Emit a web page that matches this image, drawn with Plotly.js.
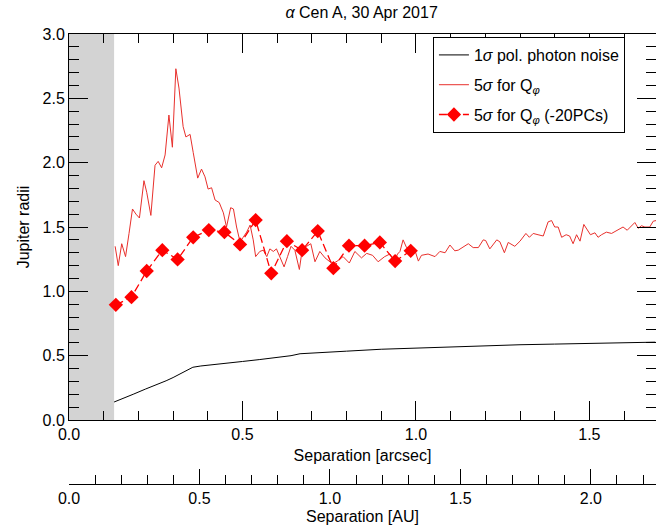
<!DOCTYPE html>
<html>
<head>
<meta charset="utf-8">
<script src="https://cdn.plot.ly/plotly-3.0.1.min.js"></script>
<style>html,body{margin:0;padding:0;background:#fff;}#chart{width:656px;height:532px;}</style>
</head>
<body>
<div id="chart"></div>
<script>
// 1-sigma polarimetric photon noise (black)
const noiseSep = [0.13, 0.16, 0.185, 0.22, 0.25, 0.28, 0.30, 0.33, 0.345, 0.357, 0.38, 0.40, 0.45, 0.50, 0.55, 0.60, 0.64, 0.666, 0.72, 0.80, 0.90, 1.00, 1.10, 1.20, 1.30, 1.40, 1.50, 1.60, 1.69];
const noiseVal = [0.14, 0.17, 0.20, 0.24, 0.27, 0.305, 0.33, 0.37, 0.395, 0.41, 0.42, 0.425, 0.44, 0.455, 0.47, 0.485, 0.50, 0.515, 0.525, 0.535, 0.55, 0.56, 0.57, 0.58, 0.585, 0.59, 0.595, 0.60, 0.605];

// 5-sigma for Q_phi (red line)
const qphiSep = [0.133,0.142,0.152,0.163,0.173,0.183,0.193,0.203,0.216,0.224,0.236,0.248,0.257,0.267,0.277,0.288,0.298,0.308,0.317,0.329,0.337,0.349,0.358,0.371,0.382,0.392,0.401,0.411,0.421,0.433,0.445,0.454,0.466,0.474,0.483,0.493,0.502,0.512,0.522,0.531,0.538,0.55,0.56,0.57,0.579,0.589,0.598,0.608,0.62,0.63,0.64,0.651,0.664,0.672,0.685,0.697,0.709,0.723,0.738,0.752,0.764,0.776,0.79,0.808,0.824,0.843,0.858,0.875,0.891,0.91,0.925,0.938,0.947,0.954,0.963,0.973,0.985,0.997,1.007,1.016,1.035,1.055,1.069,1.084,1.098,1.112,1.122,1.151,1.165,1.18,1.194,1.201,1.213,1.233,1.242,1.255,1.266,1.285,1.30,1.317,1.327,1.338,1.352,1.367,1.381,1.391,1.40,1.41,1.42,1.433,1.443,1.453,1.463,1.473,1.484,1.494,1.503,1.516,1.525,1.535,1.549,1.564,1.576,1.588,1.597,1.609,1.631,1.641,1.65,1.66,1.674,1.684,1.692];
const qphiVal = [1.35,1.20,1.37,1.27,1.45,1.64,1.60,1.57,1.86,1.77,1.59,1.98,2.01,1.96,2.06,2.37,2.12,2.73,2.58,2.28,2.20,2.22,2.08,1.88,1.95,1.89,1.795,1.805,1.71,1.69,1.61,1.50,1.65,1.64,1.50,1.385,1.42,1.46,1.515,1.40,1.27,1.31,1.32,1.27,1.33,1.31,1.33,1.27,1.19,1.27,1.35,1.32,1.17,1.32,1.35,1.37,1.23,1.31,1.26,1.23,1.22,1.24,1.27,1.22,1.31,1.26,1.295,1.28,1.23,1.27,1.29,1.235,1.29,1.31,1.40,1.34,1.33,1.32,1.235,1.28,1.29,1.27,1.31,1.30,1.36,1.315,1.32,1.37,1.34,1.34,1.40,1.395,1.33,1.40,1.385,1.30,1.38,1.35,1.39,1.45,1.42,1.45,1.44,1.43,1.54,1.55,1.50,1.50,1.42,1.44,1.43,1.37,1.44,1.39,1.52,1.48,1.44,1.455,1.42,1.44,1.46,1.45,1.47,1.49,1.50,1.475,1.535,1.49,1.51,1.50,1.50,1.545,1.55];

// 5-sigma for Q_phi (-20PCs) (diamonds)
const pcSep = [0.135,0.18,0.224,0.269,0.313,0.358,0.403,0.448,0.493,0.538,0.583,0.628,0.672,0.717,0.762,0.807,0.852,0.896,0.940,0.985];
const pcVal = [0.895,0.955,1.158,1.32,1.248,1.42,1.476,1.46,1.365,1.554,1.14,1.39,1.32,1.468,1.18,1.355,1.355,1.38,1.235,1.315];

const maskEdge = 0.13;       // arcsec, coronagraph region
const arcsecMax = 1.692;
const auPerArcsec = 1.3295;

const FONT = 'Liberation Sans, Arial, Helvetica, sans-serif';

const traces = [
  {x: noiseSep, y: noiseVal, type: 'scatter', mode: 'lines', name: '1<i>σ</i> pol. photon noise',
   line: {color: '#000000', width: 1}, legendgroup: 'a', xaxis: 'x', yaxis: 'y'},
  {x: qphiSep, y: qphiVal, type: 'scatter', mode: 'lines', name: '5<i>σ</i> for Q<sub><i>φ</i></sub>',
   line: {color: '#e8302c', width: 1}, legendgroup: 'b', xaxis: 'x', yaxis: 'y'},
  {x: pcSep, y: pcVal, type: 'scatter', mode: 'lines+markers', name: '5<i>σ</i> for Q<sub><i>φ</i></sub> (-20PCs)',
   line: {color: '#ff0000', width: 1.3, dash: '8px,4px'}, marker: {symbol: 'diamond', size: 11, color: '#ff0000'},
   legendgroup: 'c', xaxis: 'x', yaxis: 'y'}
];

const layout = {
  width: 656, height: 532,
  margin: {l: 69, r: 0, t: 34, b: 48},
  paper_bgcolor: '#fff', plot_bgcolor: '#fff',
  font: {family: FONT, size: 16, color: '#000'},
  showlegend: true,
  title: {text: '<i>α</i> Cen A, 30 Apr 2017', font: {family: FONT, size: 16, color: '#000'},
          x: 0.5513, xref: 'container', y: 0.976, yref: 'container', yanchor: 'middle', xanchor: 'center'},
  xaxis: {
    range: [0, arcsecMax], domain: [0, 1], anchor: 'y',
    showline: true, linecolor: '#000', linewidth: 1, mirror: 'ticks', showgrid: false, zeroline: false,
    ticks: 'inside', ticklen: 19, tickwidth: 1, tickcolor: '#000',
    tickmode: 'linear', tick0: 0, dtick: 0.5, tickformat: '.1f',
    tickfont: {family: FONT, size: 16, color: '#000'},
    minor: {ticks: 'inside', dtick: 0.1, ticklen: 9, tickcolor: '#000', tickwidth: 1},
    title: {text: 'Separation [arcsec]', font: {family: FONT, size: 16}, standoff: 7}
  },
  yaxis: {
    range: [0, 3], domain: [0.1422, 1], anchor: 'x',
    showline: true, linecolor: '#000', linewidth: 1, mirror: 'ticks', showgrid: false, zeroline: false,
    ticks: 'inside', ticklen: 19, tickwidth: 1, tickcolor: '#000',
    tickmode: 'linear', tick0: 0, dtick: 0.5, tickformat: '.1f',
    tickfont: {family: FONT, size: 16, color: '#000'},
    minor: {ticks: 'inside', dtick: 0.1, ticklen: 10, tickcolor: '#000', tickwidth: 1},
    title: {text: 'Jupiter radii', font: {family: FONT, size: 16}, standoff: 8}
  },
  xaxis2: {
    range: [0, arcsecMax * auPerArcsec], domain: [0, 1], anchor: 'y2',
    showline: true, linecolor: '#000', linewidth: 1, showgrid: false, zeroline: false,
    ticks: 'inside', ticklen: 15, tickwidth: 1, tickcolor: '#000',
    tickmode: 'linear', tick0: 0, dtick: 0.5, tickformat: '.1f',
    tickfont: {family: FONT, size: 16, color: '#000'},
    minor: {ticks: 'inside', dtick: 0.1, ticklen: 9, tickcolor: '#000', tickwidth: 1},
    title: {text: 'Separation [AU]', font: {family: FONT, size: 16}, standoff: 4}
  },
  yaxis2: {domain: [0, 0.001], range: [0, 1], visible: false, anchor: 'x2', fixedrange: true},
  shapes: [{type: 'rect', xref: 'x', yref: 'y', x0: 0, x1: maskEdge, y0: 0, y1: 3,
            fillcolor: '#d3d3d3', line: {width: 0}, layer: 'below'}],
  legend: {x: 0.62, y: 0.9933, xanchor: 'left', yanchor: 'top', xref: 'paper', yref: 'paper',
           bgcolor: '#fff', bordercolor: '#000', borderwidth: 1, font: {family: FONT, size: 16, color: '#000'},
           tracegroupgap: 6}
};

// invisible trace so the AU axis is drawn
traces.push({x: [0, arcsecMax * auPerArcsec], y: [0.5, 0.5], xaxis: 'x2', yaxis: 'y2', mode: 'lines',
             line: {width: 0}, showlegend: false, hoverinfo: 'skip'});

Plotly.newPlot('chart', traces, layout, {staticPlot: true});
</script>
</body>
</html>
